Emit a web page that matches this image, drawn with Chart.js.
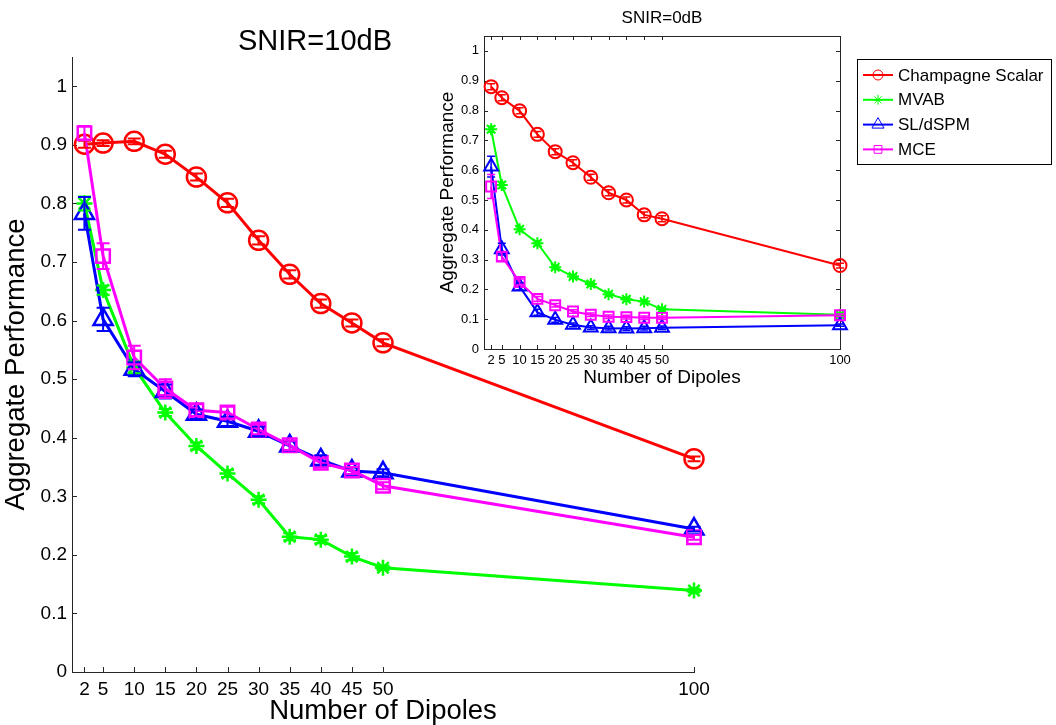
<!DOCTYPE html>
<html>
<head>
<meta charset="utf-8">
<script src="https://cdn.jsdelivr.net/npm/chart.js@4"></script>
<style>
    body { margin: 0; background: #fff; }
    #wrap { position: relative; width: 1056px; height: 725px; }
    #mainChart { position: absolute; left: 0; top: 0; }
    #insetChart { position: absolute; left: 430px; top: 0; }
</style>
</head>
<body>
<div id="wrap">
    <canvas id="mainChart" width="1056" height="725"></canvas>
    <canvas id="insetChart" width="626" height="400"></canvas>
</div>
<script>
const FONT = "'Liberation Sans', Arial, Helvetica, sans-serif"
const AXIS = "#262626"

const dipoles = [2, 5, 10, 15, 20, 25, 30, 35, 40, 45, 50, 100]
const xTicks = [2, 5, 10, 15, 20, 25, 30, 35, 40, 45, 50, 100]
const yTicks = [0, 0.1, 0.2, 0.3, 0.4, 0.5, 0.6, 0.7, 0.8, 0.9, 1]
const yTickLabels = ["0", "0.1", "0.2", "0.3", "0.4", "0.5", "0.6", "0.7", "0.8", "0.9", "1"]
const seriesNames = ["Champagne Scalar", "MVAB", "SL/dSPM", "MCE"]

// SNIR = 10dB (main axes)
const champ10 = [0.901, 0.903, 0.906, 0.884, 0.845, 0.801, 0.737, 0.679, 0.629, 0.596, 0.562, 0.364]
const mvab10  = [0.800, 0.652, 0.520, 0.443, 0.386, 0.339, 0.294, 0.231, 0.226, 0.197, 0.178, 0.139]
const sl10    = [0.783, 0.602, 0.517, 0.479, 0.440, 0.428, 0.411, 0.386, 0.362, 0.343, 0.340, 0.244]
const mce10   = [0.920, 0.710, 0.537, 0.484, 0.447, 0.443, 0.414, 0.387, 0.357, 0.344, 0.318, 0.230]
const champErr10 = [0.006, 0.005, 0.005, 0.006, 0.006, 0.007, 0.007, 0.007, 0.007, 0.006, 0.006, 0.004]
const mvabErr10  = [0.012, 0.008, 0.010, 0.006, 0.006, 0.006, 0.006, 0.006, 0.006, 0.006, 0.004, 0.003]
const slErr10    = [0.028, 0.020, 0.012, 0.012, 0.008, 0.008, 0.008, 0.008, 0.008, 0.006, 0.006, 0.004]
const mceErr10   = [0.012, 0.022, 0.020, 0.016, 0.010, 0.010, 0.008, 0.008, 0.008, 0.006, 0.006, 0.004]

// SNIR = 0dB (inset)
const champ0 = [0.880, 0.843, 0.799, 0.720, 0.662, 0.625, 0.576, 0.524, 0.500, 0.450, 0.437, 0.280]
const mvab0  = [0.737, 0.550, 0.402, 0.355, 0.274, 0.243, 0.218, 0.184, 0.167, 0.159, 0.133, 0.115]
const sl0    = [0.612, 0.335, 0.210, 0.123, 0.098, 0.081, 0.072, 0.070, 0.069, 0.070, 0.071, 0.080]
const mce0   = [0.545, 0.310, 0.225, 0.168, 0.147, 0.126, 0.115, 0.108, 0.107, 0.105, 0.105, 0.113]
const champErr0 = [0.010, 0.010, 0.010, 0.010, 0.010, 0.010, 0.010, 0.010, 0.010, 0.010, 0.010, 0.008]
const mvabErr0  = [0.010, 0.010, 0.008, 0.008, 0.006, 0.006, 0.006, 0.006, 0.006, 0.006, 0.006, 0.004]
const slErr0    = [0.035, 0.020, 0.012, 0.010, 0.008, 0.006, 0.006, 0.006, 0.006, 0.006, 0.006, 0.004]
const mceErr0   = [0.040, 0.015, 0.010, 0.008, 0.006, 0.006, 0.006, 0.006, 0.006, 0.006, 0.006, 0.004]

const colors = ["#ff0000", "#00ff00", "#0000ff", "#ff00ff"]
const styles = ["circle", "star", "triangle", "rect"]

function series(i, values, errs, radii, lineW, markW) {
    return {
        label: seriesNames[i],
        data: dipoles.map((d, j) => ({ x: d, y: values[j] })),
        errors: errs,
        borderColor: colors[i],
        backgroundColor: colors[i],
        borderWidth: lineW,
        pointStyle: styles[i],
        pointRadius: radii[i],
        pointBorderWidth: markW,
        pointBackgroundColor: "rgba(0,0,0,0)",
        tension: 0,
        clip: false,
        order: 3 - i   // MCE ends up on top, like the later plot() calls
    }
}

// inward tick marks (matlab style), optional full box
const axesFrame = {
    id: "axesFrame",
    beforeDatasetsDraw(chart, args, opts) {
        const { ctx, chartArea: a, scales: { x, y } } = chart
        ctx.save()
        ctx.strokeStyle = AXIS
        ctx.lineWidth = opts.width
        ctx.beginPath()
        for (const t of x.ticks) {
            const px = Math.round(x.getPixelForValue(t.value)) + 0.5
            ctx.moveTo(px, a.bottom)
            ctx.lineTo(px, a.bottom - opts.len)
            if (opts.box) {
                ctx.moveTo(px, a.top)
                ctx.lineTo(px, a.top + opts.len)
            }
        }
        for (const t of y.ticks) {
            const py = Math.round(y.getPixelForValue(t.value)) + 0.5
            ctx.moveTo(a.left, py)
            ctx.lineTo(a.left + opts.len, py)
            if (opts.box) {
                ctx.moveTo(a.right, py)
                ctx.lineTo(a.right - opts.len, py)
            }
        }
        if (opts.box) {
            ctx.rect(Math.round(a.left) + 0.5, Math.round(a.top) + 0.5, Math.round(a.right - a.left), Math.round(a.bottom - a.top))
        }
        ctx.stroke()
        ctx.restore()
    }
}

const errorBars = {
    id: "errorBars",
    afterDatasetsDraw(chart, args, opts) {
        const { ctx, scales: { y } } = chart
        chart.data.datasets.forEach((ds, i) => {
            if (!ds.errors) return
            const meta = chart.getDatasetMeta(i)
            ctx.save()
            ctx.strokeStyle = ds.borderColor
            ctx.lineWidth = opts.width
            ctx.beginPath()
            meta.data.forEach((pt, j) => {
                const v = ds.data[j].y
                const e = ds.errors[j]
                const top = y.getPixelForValue(v + e)
                const bot = y.getPixelForValue(v - e)
                ctx.moveTo(pt.x, top)
                ctx.lineTo(pt.x, bot)
                ctx.moveTo(pt.x - opts.cap, top)
                ctx.lineTo(pt.x + opts.cap, top)
                ctx.moveTo(pt.x - opts.cap, bot)
                ctx.lineTo(pt.x + opts.cap, bot)
            })
            ctx.stroke()
            ctx.restore()
        })
    }
}

const plotTitle = {
    id: "plotTitle",
    afterDraw(chart, args, opts) {
        const ctx = chart.ctx
        ctx.save()
        ctx.fillStyle = "#000"
        ctx.font = opts.size + "px " + FONT
        ctx.textAlign = "center"
        ctx.textBaseline = "middle"
        ctx.fillText(opts.text, opts.x, opts.y)
        ctx.restore()
    }
}

// legend box that looks like the matlab one: line + marker + label
const boxLegend = {
    id: "boxLegend",
    afterDraw(chart, args, opts) {
        const ctx = chart.ctx
        ctx.save()
        ctx.fillStyle = "#fff"
        ctx.fillRect(opts.left, opts.top, opts.width, opts.height)
        ctx.strokeStyle = "#000"
        ctx.lineWidth = 1
        ctx.strokeRect(opts.left + 0.5, opts.top + 0.5, opts.width, opts.height)
        ctx.font = opts.size + "px " + FONT
        ctx.textBaseline = "middle"
        ctx.textAlign = "left"
        chart.data.datasets.forEach((ds, i) => {
            const yy = opts.first + i * opts.step
            const x0 = opts.left + 6
            ctx.strokeStyle = ds.borderColor
            ctx.lineWidth = 2
            ctx.beginPath()
            ctx.moveTo(x0, yy)
            ctx.lineTo(x0 + 30, yy)
            ctx.stroke()
            ctx.fillStyle = "rgba(0,0,0,0)"
            ctx.lineWidth = 1
            Chart.helpers.drawPoint(ctx, { pointStyle: ds.pointStyle, radius: opts.radii[i], rotation: 0, borderWidth: 1 }, x0 + 15, yy)
            ctx.fillStyle = "#000"
            ctx.fillText(ds.label, x0 + 35, yy + 1)
        })
        ctx.restore()
    }
}

function axisOptions(cfg) {
    return {
        x: {
            type: "linear",
            min: 0,
            max: 100,
            afterBuildTicks: s => { s.ticks = xTicks.map(v => ({ value: v })) },
            afterFit: s => { s.height = cfg.xHeight },
            grid: { display: false, drawTicks: false },
            border: { display: true, color: AXIS, width: 1 },
            ticks: { autoSkip: false, maxRotation: 0, padding: cfg.xPad, color: "#000", font: { family: FONT, size: cfg.tickSize, lineHeight: 1.2 } },
            title: { display: true, text: "Number of Dipoles", color: "#000", padding: { top: 0, bottom: cfg.xTitlePad }, font: { family: FONT, size: cfg.titleSize, lineHeight: 1 } }
        },
        y: {
            type: "linear",
            min: 0,
            max: 1.05,
            afterBuildTicks: s => { s.ticks = yTicks.map(v => ({ value: v })) },
            afterFit: s => { s.width = cfg.yWidth },
            grid: { display: false, drawTicks: false },
            border: { display: true, color: AXIS, width: 1 },
            ticks: { padding: 5, color: "#000", font: { family: FONT, size: cfg.tickSize }, callback: (v, i) => yTickLabels[i] },
            title: { display: true, text: "Aggregate Performance", color: "#000", padding: { top: cfg.yTitlePad, bottom: 0 }, font: { family: FONT, size: cfg.titleSize, lineHeight: 1 } }
        }
    }
}

const mainRadii = [9.5, 8, 11, 9.5]
new Chart(document.getElementById("mainChart"), {
    type: "line",
    data: {
        datasets: [
            series(0, champ10, champErr10, mainRadii, 3, 2.5),
            series(1, mvab10, mvabErr10, mainRadii, 3, 2.5),
            series(2, sl10, slErr10, mainRadii, 3, 2.5),
            series(3, mce10, mceErr10, mainRadii, 3, 2.5)
        ]
    },
    options: {
        responsive: false,
        animation: false,
        devicePixelRatio: 1,
        events: [],
        layout: { padding: { top: 57, right: 362, bottom: 0, left: 0 } },
        scales: axisOptions({ xHeight: 53, yWidth: 72, xPad: 6, tickSize: 19, titleSize: 27.5, xTitlePad: 0, yTitlePad: 2.5 }),
        plugins: {
            legend: { display: false },
            tooltip: { enabled: false },
            axesFrame: { len: 5, width: 1, box: false },
            errorBars: { width: 2, cap: 6.5 },
            plotTitle: { text: "SNIR=10dB", x: 315, y: 42, size: 29 }
        }
    },
    plugins: [axesFrame, errorBars, plotTitle]
})

const insetRadii = [6.5, 6, 8, 7]
new Chart(document.getElementById("insetChart"), {
    type: "line",
    data: {
        datasets: [
            series(0, champ0, champErr0, insetRadii, 2, 2),
            series(1, mvab0, mvabErr0, insetRadii, 2, 2),
            series(2, sl0, slErr0, insetRadii, 2, 2),
            series(3, mce0, mceErr0, insetRadii, 2, 2)
        ]
    },
    options: {
        responsive: false,
        animation: false,
        devicePixelRatio: 1,
        events: [],
        layout: { padding: { top: 36, right: 216, bottom: 0, left: 0 } },
        scales: axisOptions({ xHeight: 51, yWidth: 54, xPad: 3.5, tickSize: 13, titleSize: 19, xTitlePad: 13, yTitlePad: 8 }),
        plugins: {
            legend: { display: false },
            tooltip: { enabled: false },
            axesFrame: { len: 4, width: 1, box: true },
            errorBars: { width: 1.5, cap: 4 },
            plotTitle: { text: "SNIR=0dB", x: 232, y: 18.5, size: 17 },
            boxLegend: { left: 427, top: 59, width: 194, height: 105, first: 75, step: 24.8, size: 17, radii: [5, 5, 7, 5.5] }
        }
    },
    plugins: [axesFrame, errorBars, plotTitle, boxLegend]
})
</script>
</body>
</html>
